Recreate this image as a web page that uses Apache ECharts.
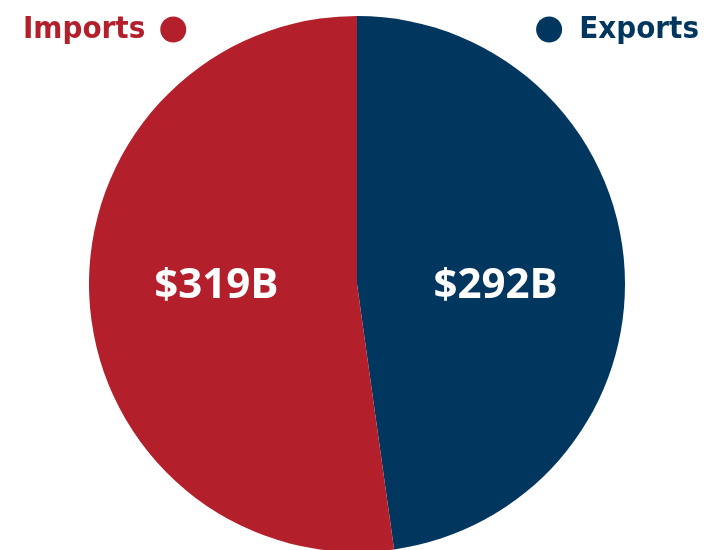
<!DOCTYPE html>
<html lang="en">
<head>
    <meta charset="UTF-8">
    <title>Imports vs Exports</title>
    <script src="https://cdn.jsdelivr.net/npm/echarts@6/dist/echarts.min.js"></script>
    <style>
        html, body { margin: 0; padding: 0; background: #fff; }
        #chart { width: 705px; height: 550px; }
    </style>
</head>
<body>
    <div id="chart"></div>
<script>
// data
var names = ['Exports', 'Imports'];
var values = [292, 319];
var labels = ['$292B', '$319B'];
var colors = ['#01365f', '#b3202c'];
// nudge labels to the same line as in the original
var labelOffsets = [[2, 12], [-4, -7]];

var myChart = echarts.init(document.getElementById('chart'));

var pieData = names.map(function (n, i) {
  return {
    name: n,
    value: values[i],
    itemStyle: { color: colors[i] },
    label: { formatter: labels[i], offset: labelOffsets[i] }
  };
});

var legendFont = {
  fontFamily: '"Liberation Sans Narrow", "DejaVu Sans Condensed", sans-serif',
  fontWeight: 'bold',
  fontSize: 31
};

var option = {
  animation: false,
  legend: [
    {
      // imports: text then dot
      data: [{ name: 'Imports', textStyle: Object.assign({ color: colors[1], padding: [0, 10, 0, 0] }, legendFont) }],
      left: 18, top: 9,
      align: 'right',
      icon: 'circle',
      itemWidth: 26, itemHeight: 26,
      selectedMode: false
    },
    {
      // exports: dot then text
      data: [{ name: 'Exports', textStyle: Object.assign({ color: colors[0], padding: [0, 0, 0, 12] }, legendFont) }],
      right: 1, top: 9,
      align: 'left',
      icon: 'circle',
      itemWidth: 26, itemHeight: 26,
      selectedMode: false
    }
  ],
  series: [
    {
      type: 'pie',
      center: [357, 284],
      radius: 268,
      startAngle: 90,
      clockwise: true,
      silent: true,
      data: pieData,
      itemStyle: { borderWidth: 0 },
      label: {
        position: 'inside',
        color: '#fff',
        fontFamily: '"Open Sans", "DejaVu Sans", sans-serif',
        fontWeight: 'bold',
        fontSize: 42
      },
      labelLine: { show: false }
    }
  ]
};

myChart.setOption(option);
</script>
</body>
</html>
